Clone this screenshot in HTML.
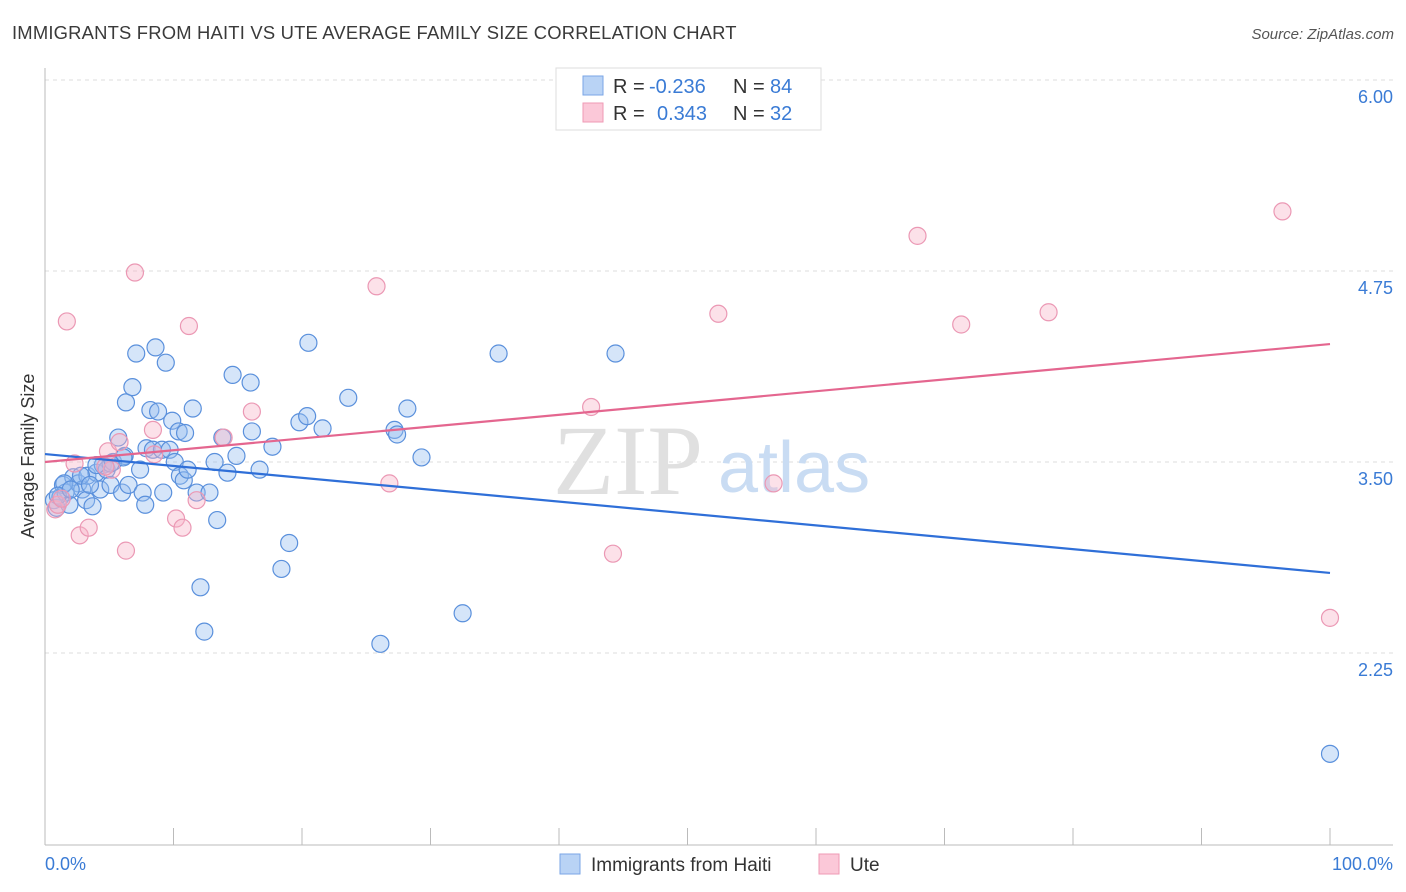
<!DOCTYPE html>
<html><head><meta charset="utf-8">
<style>
body{margin:0;background:#fff;font-family:"Liberation Sans",sans-serif;}
svg{display:block}
</style></head>
<body>
<svg id="chart" width="1406" height="892">
<text x="12" y="39" font-size="18.4" fill="#3a3a3a" letter-spacing="0.2">IMMIGRANTS FROM HAITI VS UTE AVERAGE FAMILY SIZE CORRELATION CHART</text>
<text x="1394" y="39" font-size="15" fill="#555" font-style="italic" text-anchor="end">Source: ZipAtlas.com</text>
<g id="grid"></g>
<text x="553" y="494" font-size="100" fill="#e0e0e0" font-family="Liberation Serif,serif">ZIP</text>
<text x="718" y="492" font-size="72" fill="#c9dcf3">atlas</text>
<g id="pts"></g>
<g id="lines"></g>
<text transform="translate(34,456) rotate(-90)" font-size="18" fill="#333" text-anchor="middle">Average Family Size</text>
<text x="45" y="870" font-size="18" fill="#3a7bd5">0.0%</text>
<text x="1393" y="870" font-size="18" fill="#3a7bd5" text-anchor="end">100.0%</text>
<g>
<rect x="556" y="68" width="265" height="62" fill="#fff" stroke="#ddd"/>
<rect x="583" y="76" width="20" height="19" fill="#b9d3f5" stroke="#7aa6e6"/>
<rect x="583" y="103" width="20" height="19" fill="#fbc8d8" stroke="#ef9ab5"/>
<text x="613" y="93" font-size="20" fill="#333">R = </text><text x="649" y="93" font-size="20" fill="#3a7bd5">-0.236</text>
<text x="733" y="93" font-size="20" fill="#333">N = </text><text x="770" y="93" font-size="20" fill="#3a7bd5">84</text>
<text x="613" y="120" font-size="20" fill="#333">R = </text><text x="657" y="120" font-size="20" fill="#3a7bd5">0.343</text>
<text x="733" y="120" font-size="20" fill="#333">N = </text><text x="770" y="120" font-size="20" fill="#3a7bd5">32</text>
</g>
<g>
<rect x="560" y="854" width="20" height="20" fill="#b9d3f5" stroke="#7aa6e6"/>
<text x="591" y="871" font-size="19" fill="#333">Immigrants from Haiti</text>
<rect x="819" y="854" width="20" height="20" fill="#fbc8d8" stroke="#ef9ab5"/>
<text x="850" y="871" font-size="19" fill="#333">Ute</text>
</g>
</svg>
<script>
const yTicks=[6.00,4.75,3.50,2.25];
const xTickCount=10;
const blueX=[0.7,0.9,1.2,1.4,1.6,1.9,2.2,2.6,2.9,3.2,3.3,3.7,4.0,4.3,4.5,4.8,5.1,5.3,5.7,6.0,6.2,6.3,6.5,6.8,7.1,7.4,7.6,7.8,7.9,8.2,8.4,8.6,8.8,9.1,9.2,9.4,9.7,9.9,10.1,10.4,10.5,10.8,11.1,11.5,11.8,12.1,12.4,12.8,13.2,13.4,13.8,14.2,14.6,14.9,16.0,16.1,16.7,17.7,18.4,19.0,19.8,20.4,20.5,21.6,23.6,26.1,27.2,27.4,28.2,29.3,32.5,35.3,44.4,100,10.9,6.1,5.1,4.0,2.8,1.5,1.0,2.0,3.5];
const blueY=[3.25,3.20,3.27,3.35,3.30,3.22,3.40,3.36,3.32,3.25,3.41,3.21,3.43,3.32,3.48,3.45,3.35,3.50,3.66,3.30,3.54,3.89,3.35,3.99,4.21,3.45,3.30,3.22,3.59,3.84,3.58,4.25,3.83,3.58,3.30,4.15,3.58,3.77,3.50,3.70,3.41,3.38,3.45,3.85,3.30,2.68,2.39,3.30,3.50,3.12,3.66,3.43,4.07,3.54,4.02,3.70,3.45,3.60,2.80,2.97,3.76,3.80,4.28,3.72,3.92,2.31,3.71,3.68,3.85,3.53,2.51,4.21,4.21,1.59,3.69,3.53,3.49,3.48,3.41,3.36,3.28,3.32,3.35];
const pinkX=[0.8,1.0,1.7,2.3,2.7,3.4,4.9,5.2,5.8,6.3,7.0,8.4,8.5,10.2,10.7,11.2,11.8,13.9,16.1,25.8,26.8,42.5,44.2,52.4,56.7,67.9,71.3,78.1,96.3,100,4.7,1.3];
const pinkY=[3.19,3.22,4.42,3.49,3.02,3.07,3.57,3.45,3.63,2.92,4.74,3.71,3.55,3.13,3.07,4.39,3.25,3.66,3.83,4.65,3.36,3.86,2.90,4.47,3.36,4.98,4.40,4.48,5.14,2.48,3.47,3.26];
const blueTrend=[3.552,2.774];
const pinkTrend=[3.50,4.272];
const NS='http://www.w3.org/2000/svg';
const sx=v=>45+v*12.85;
const sy=v=>462-(v-3.5)*152.8;
function mk(tag,attrs,parent){const e=document.createElementNS(NS,tag);for(const k in attrs)e.setAttribute(k,attrs[k]);parent.appendChild(e);return e;}
const grid=document.getElementById('grid');
yTicks.forEach(t=>{
  const l=mk('line',{x1:45,x2:1393,y1:sy(t),y2:sy(t),stroke:'#ddd','stroke-dasharray':'4,4'},grid);
  
  
  const tx=mk('text',{x:1393,y:sy(t)+23,'font-size':18,fill:'#3a7bd5','text-anchor':'end'},grid);
  tx.textContent=t.toFixed(2);
  
  
});
const ax=mk('line',{x1:45,x2:45,y1:68,y2:845,stroke:'#bbb'},grid);


const bx=mk('line',{x1:45,x2:1393,y1:845,y2:845,stroke:'#bbb'},grid);


for(let i=0;i<=xTickCount;i++){
  const t=mk('line',{x1:sx(i*10),x2:sx(i*10),y1:828,y2:845,stroke:'#bbb'},grid);
  
  
}
const pts=document.getElementById('pts');
blueX.forEach((x,i)=>{
  const c=mk('circle',{cx:sx(x),cy:sy(blueY[i]),r:8.5,fill:'rgba(150,190,240,0.4)',stroke:'#5a90dc','stroke-width':1.2},pts);
  
  
});
pinkX.forEach((x,i)=>{
  const c=mk('circle',{cx:sx(x),cy:sy(pinkY[i]),r:8.5,fill:'rgba(248,180,200,0.4)',stroke:'#eb98b4','stroke-width':1.2},pts);
  
  
});
const lines=document.getElementById('lines');
const bl=mk('line',{x1:sx(0),x2:sx(100),y1:sy(blueTrend[0]),y2:sy(blueTrend[1]),stroke:'#2f6fd8','stroke-width':2.2},lines);


const pl=mk('line',{x1:sx(0),x2:sx(100),y1:sy(pinkTrend[0]),y2:sy(pinkTrend[1]),stroke:'#e4668f','stroke-width':2.2},lines);


</script>
</body></html>
